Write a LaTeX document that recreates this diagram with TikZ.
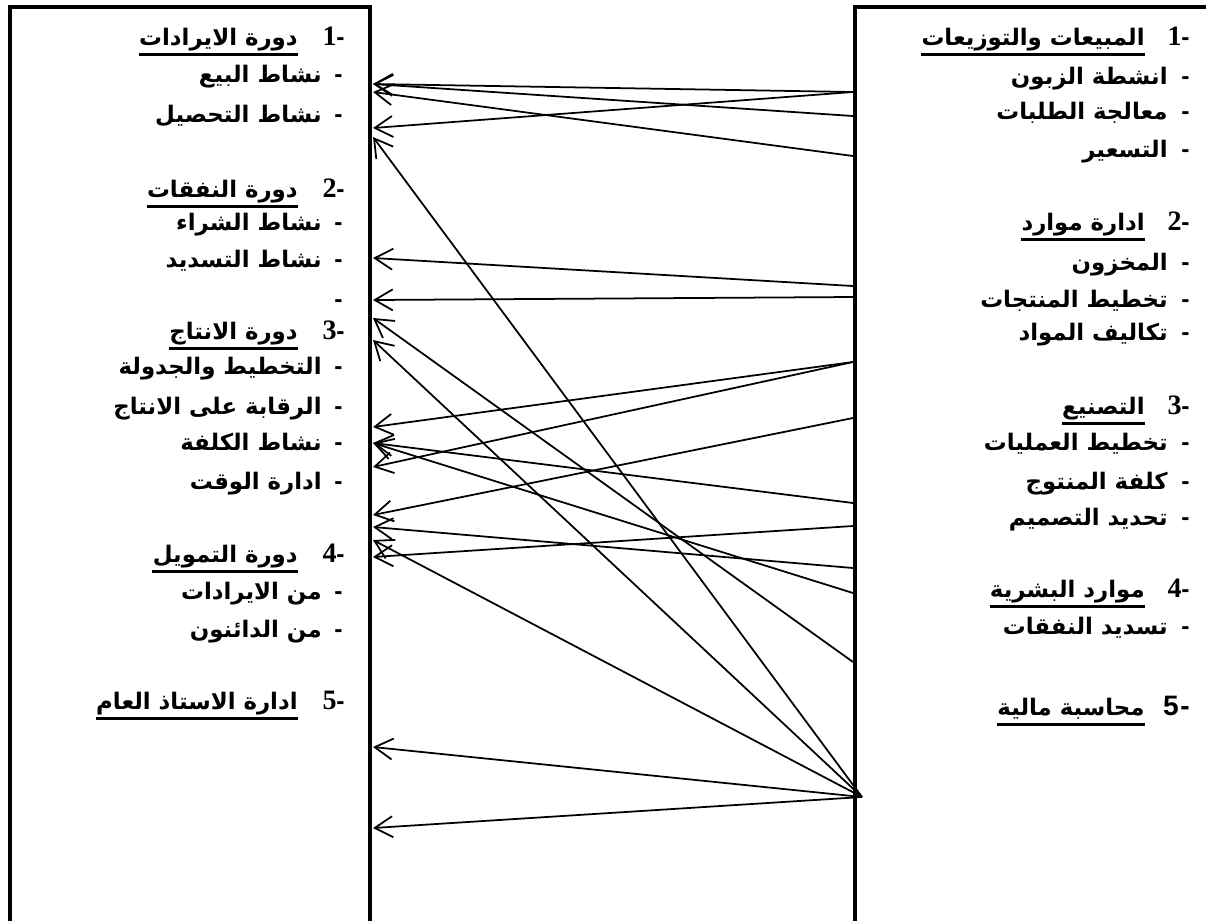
\documentclass[tikz,border=0pt]{standalone}
\usepackage{fontspec}
\usetikzlibrary{arrows.meta}
\TeXXeTstate=1
\newfontfamily\arabicfont[Script=Arabic]{DejaVu Sans}
\newfontfamily\numfont{Liberation Serif}
\newfontfamily\latinsans{Liberation Sans}
\tikzset{
  >={Straight Barb[length=3.6mm,width=4.2mm]},
  frame/.style={line width=0.085cm},
  link/.style={->,line width=1pt},
  headtxt/.style={anchor=base east,inner sep=0pt,font=\arabicfont\bfseries\fontsize{13}{15}\selectfont},
  itemtxt/.style={anchor=base east,inner sep=0pt,font=\arabicfont\bfseries\fontsize{13}{15}\selectfont},
  numtxt/.style={anchor=base east,inner sep=0pt,font=\numfont\bfseries\fontsize{16}{18}\selectfont},
  dashmk/.style={anchor=base east,inner sep=0pt,font=\latinsans\bfseries\fontsize{14}{16}\selectfont},
  uline/.style={line width=0.06cm},
}

\begin{document}
\begin{tikzpicture}[x=0.02cm,y=-0.02cm]
  \useasboundingbox (0,0) rectangle (1206,920);
  % the two frames
  \draw[frame] (10,925) -- (10,7) -- (370,7) -- (370,925);
  \draw[frame] (855,925) -- (855,7) -- (1215,7);

  % left box
  \foreach \n/\t/\y in {1/دورة الايرادات/38,2/دورة النفقات/190,3/دورة الانتاج/332,4/دورة التمويل/555,5/ادارة الاستاذ العام/702}
  {
    \node[dashmk] (ldn\n) at (345,\y+7) {-};
    \node[numtxt] (lnum\n) at (337,\y+7) {\n};
    \node[headtxt] (lhead\n) at (298,\y+7) {\beginR\t\endR};
    \draw[uline] ([yshift=-0.19cm]lhead\n.base west) -- ([yshift=-0.19cm]lhead\n.base east);
  }
  \foreach \t/\y [count=\i] in {نشاط البيع/75,نشاط التحصيل/115,نشاط الشراء/223,نشاط التسديد/260,التخطيط والجدولة/367,الرقابة على الانتاج/407,نشاط الكلفة/443,ادارة الوقت/482,من الايرادات/592,من الدائنون/630}
  {
    \node[dashmk] (ldash\i) at (343,\y+7) {-};
    \node[itemtxt] (litem\i) at (322,\y+7) {\beginR\t\endR};
  }
  \node[dashmk] (ldash0) at (343,307) {-};

  % right box
  \foreach \n/\t/\y in {1/المبيعات والتوزيعات/38,2/ادارة موارد/223,3/التصنيع/407,4/موارد البشرية/590}
  {
    \node[dashmk] (rdn\n) at (1190,\y+7) {-};
    \node[numtxt] (rnum\n) at (1182,\y+7) {\n};
    \node[headtxt] (rhead\n) at (1145,\y+7) {\beginR\t\endR};
    \draw[uline] ([yshift=-0.19cm]rhead\n.base west) -- ([yshift=-0.19cm]rhead\n.base east);
  }
  \node[dashmk,font=\latinsans\bfseries\fontsize{16}{18}\selectfont] (rdn5) at (1190,715) {-};
  \node[numtxt,font=\latinsans\bfseries\fontsize{16}{18}\selectfont] (rnum5) at (1179,715) {5};
  \node[headtxt] (rhead5) at (1145,715) {\beginR محاسبة مالية\endR};
  \draw[uline] ([yshift=-0.19cm]rhead5.base west) -- ([yshift=-0.19cm]rhead5.base east);
  \foreach \t/\y [count=\i] in {انشطة الزبون/77,معالجة الطلبات/112,التسعير/150,المخزون/263,تخطيط المنتجات/300,تكاليف المواد/333,تخطيط العمليات/443,كلفة المنتوج/482,تحديد التصميم/518,تسديد النفقات/627}
  {
    \node[dashmk] (rdash\i) at (1190,\y+7) {-};
    \node[itemtxt] (ritem\i) at (1168,\y+7) {\beginR\t\endR};
  }

  % connector ends
  \foreach \n/\y in {a/84,b/92,c/128,d/137,e/258,f/300,g/318,h/340,i/427,j/443,k/467,l/515,m/527,n/540,o/557,p/747,q/828}
    \coordinate (l\n) at (373,\y);
  \foreach \n/\y in {a/92,b/116,c/156,d/286,e/297,f/362,g/418,h/503,i/526,j/568,k/593,l/662}
    \coordinate (r\n) at (853,\y);
  \coordinate (fan) at (862,797);

  \foreach \a/\b in {ra/la,rb/la,rc/lb,ra/lc,fan/ld,rd/le,re/lf,rl/lg,fan/lh,rf/li,rh/lj,rk/lj,rf/lk,rg/ll,rj/lm,fan/ln,ri/lo,fan/lp,fan/lq}
    \draw[link] (\a) -- (\b);
\end{tikzpicture}
\end{document}
